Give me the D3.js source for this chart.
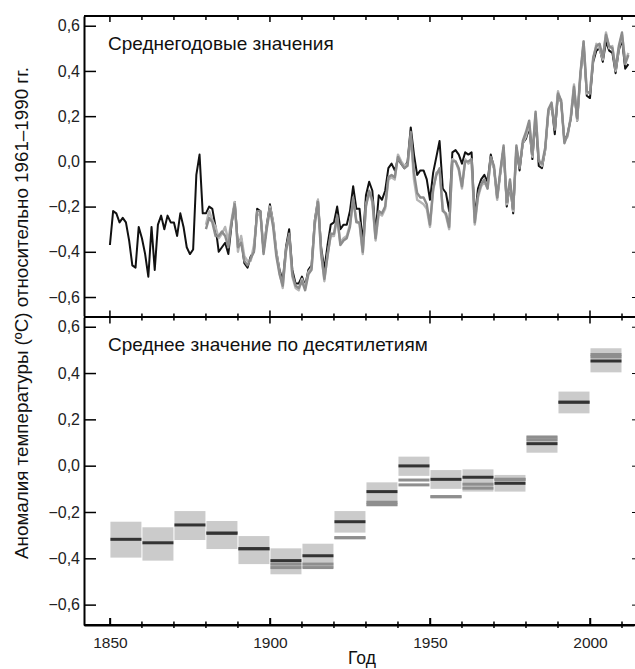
<!DOCTYPE html>
<html>
<head>
<meta charset="utf-8">
<script src="https://cdn.jsdelivr.net/npm/d3@7"></script>
<style>
  body { margin: 0; background: #fff; }
  text { font-family: "Liberation Sans", Arial, sans-serif; }
</style>
</head>
<body>
<svg width="635" height="669"></svg>
<script>
// annual anomalies, 1961-1990 base
var hadYears = d3.range(1850, 2013);
var hadcrut = [
  -0.37,-0.22,-0.23,-0.27,-0.25,-0.27,-0.35,-0.46,-0.47,-0.29,
  -0.34,-0.41,-0.51,-0.29,-0.48,-0.28,-0.24,-0.30,-0.24,-0.27,
  -0.27,-0.33,-0.23,-0.29,-0.38,-0.41,-0.39,-0.06, 0.03,-0.23,
  -0.23,-0.20,-0.21,-0.29,-0.40,-0.38,-0.36,-0.41,-0.28,-0.18,
  -0.37,-0.34,-0.45,-0.47,-0.42,-0.40,-0.21,-0.22,-0.40,-0.28,
  -0.19,-0.27,-0.40,-0.48,-0.53,-0.38,-0.30,-0.48,-0.54,-0.54,
  -0.51,-0.55,-0.48,-0.46,-0.26,-0.17,-0.38,-0.48,-0.37,-0.28,
  -0.27,-0.20,-0.30,-0.28,-0.28,-0.22,-0.11,-0.21,-0.21,-0.36,
  -0.15,-0.09,-0.13,-0.32,-0.15,-0.17,-0.13,-0.03,-0.01,-0.04,
   0.01,-0.01,-0.03, 0.00, 0.15, 0.03,-0.06,-0.04,-0.04,-0.08,
  -0.17,-0.05, 0.02, 0.09,-0.12,-0.14,-0.22, 0.04, 0.05, 0.03,
  -0.01, 0.04, 0.03, 0.04,-0.25,-0.12,-0.08,-0.06,-0.09, 0.03,
  -0.03,-0.16,-0.05, 0.06,-0.20,-0.10,-0.23, 0.06,-0.04, 0.08,
   0.10, 0.15, 0.01, 0.19,-0.02,-0.03, 0.05, 0.22, 0.25, 0.12,
   0.30, 0.26, 0.09, 0.12, 0.19, 0.32, 0.18, 0.38, 0.52, 0.29,
   0.28, 0.44, 0.49, 0.50, 0.44, 0.53, 0.49, 0.48, 0.39, 0.49,
   0.54, 0.41, 0.43
];
var greyYears = d3.range(1880, 2013);
var noaa = [
  -0.30,-0.25,-0.27,-0.33,-0.33,-0.31,-0.33,-0.38,-0.27,-0.19,
  -0.38,-0.36,-0.44,-0.46,-0.43,-0.40,-0.22,-0.22,-0.41,-0.30,
  -0.21,-0.29,-0.42,-0.50,-0.55,-0.40,-0.32,-0.50,-0.55,-0.56,
  -0.53,-0.57,-0.50,-0.48,-0.28,-0.18,-0.41,-0.52,-0.42,-0.32,
  -0.32,-0.24,-0.37,-0.35,-0.34,-0.29,-0.16,-0.27,-0.27,-0.40,
  -0.20,-0.13,-0.17,-0.34,-0.22,-0.23,-0.20,-0.07,-0.06,-0.07,
   0.02,-0.01,-0.03,-0.02, 0.13,-0.05,-0.14,-0.16,-0.16,-0.19,
  -0.28,-0.12,-0.06,-0.03,-0.22,-0.23,-0.29, 0.00, 0.00,-0.03,
  -0.11, 0.00, 0.00, 0.01,-0.27,-0.15,-0.10,-0.08,-0.12, 0.02,
  -0.02,-0.16,-0.04, 0.07,-0.18,-0.08,-0.21, 0.07,-0.03, 0.09,
   0.13, 0.18, 0.03, 0.22, 0.00,-0.01, 0.06, 0.23, 0.26, 0.14,
   0.30, 0.27, 0.08, 0.12, 0.19, 0.33, 0.19, 0.39, 0.53, 0.31,
   0.30, 0.46, 0.51, 0.52, 0.46, 0.56, 0.51, 0.50, 0.41, 0.51,
   0.57, 0.43, 0.47
];
var giss = [
  -0.28,-0.22,-0.26,-0.29,-0.34,-0.32,-0.29,-0.35,-0.26,-0.18,
  -0.40,-0.33,-0.42,-0.44,-0.44,-0.37,-0.24,-0.23,-0.38,-0.29,
  -0.20,-0.27,-0.40,-0.49,-0.56,-0.39,-0.33,-0.51,-0.56,-0.57,
  -0.52,-0.56,-0.49,-0.47,-0.27,-0.17,-0.40,-0.53,-0.41,-0.33,
  -0.33,-0.25,-0.36,-0.34,-0.33,-0.28,-0.17,-0.26,-0.28,-0.41,
  -0.19,-0.14,-0.18,-0.35,-0.23,-0.24,-0.21,-0.08,-0.07,-0.08,
   0.03, 0.00,-0.02,-0.01, 0.11,-0.08,-0.17,-0.18,-0.19,-0.21,
  -0.29,-0.13,-0.05,-0.04,-0.21,-0.24,-0.30, 0.01, 0.00,-0.04,
  -0.12, 0.01,-0.01, 0.00,-0.28,-0.16,-0.11,-0.09,-0.12, 0.01,
  -0.03,-0.17,-0.05, 0.06,-0.19,-0.09,-0.22, 0.06,-0.02, 0.08,
   0.11, 0.17, 0.02, 0.21, 0.01,-0.02, 0.05, 0.22, 0.25, 0.15,
   0.31, 0.26, 0.09, 0.11, 0.20, 0.34, 0.18, 0.38, 0.53, 0.30,
   0.31, 0.45, 0.52, 0.50, 0.45, 0.57, 0.50, 0.51, 0.40, 0.50,
   0.56, 0.44, 0.48
];

// decadal means
var decades  = [1850,1860,1870,1880,1890,1900,1910,1920,1930,1940,1950,1960,1970,1980,1990,2000];
var hadDec   = [-0.318,-0.333,-0.256,-0.292,-0.358,-0.410,-0.389,-0.242,-0.112,-0.001,-0.059,-0.050,-0.076,0.095,0.274,0.452];
var decLow   = [-0.397,-0.410,-0.321,-0.360,-0.425,-0.469,-0.442,-0.289,-0.176,-0.044,-0.100,-0.112,-0.112,0.056,0.226,0.403];
var decHigh  = [-0.242,-0.266,-0.196,-0.239,-0.304,-0.357,-0.337,-0.196,-0.072,0.039,-0.019,-0.016,-0.040,0.128,0.320,0.507];
var noaaDec  = [null,null,null,-0.290,-0.360,-0.425,-0.425,-0.311,-0.158,-0.062,-0.134,-0.080,-0.059,0.112,0.274,0.470];
var gissDec  = [null,null,null,-0.290,-0.360,-0.440,-0.440,-0.311,-0.168,-0.083,-0.134,-0.097,-0.059,0.124,0.274,0.480];

var yTicks = [-0.6,-0.4,-0.2,0,0.2,0.4,0.6];
var xTicks = [1850,1900,1950,2000];
var xMinor = d3.range(1850, 2011, 10);

var svg = d3.select("svg");
var pxLeft = 84, pxRight = 634, pxTop = 16, pxMid = 317, pxBottom = 625;

var x = d3.scaleLinear().domain([1841.9, 2013.75]).range([pxLeft, pxRight]);
var yTop = d3.scaleLinear().domain([-0.684, 0.643]).range([pxMid - 1, pxTop]);
var yBot = d3.scaleLinear().domain([-0.688, 0.642]).range([pxBottom, pxMid]);

var ru = d3.formatLocale({decimal: ",", thousands: " ", grouping: [3], currency: ["", ""], minus: "\u2212"});
var fmt = ru.format(".1f");

// ---- top panel lines
var lineTop = function (years) {
  return d3.line()
    .x(function (d, i) { return x(years[i]); })
    .y(function (d) { return yTop(d); });
};

svg.append("path").datum(hadcrut)
  .attr("d", lineTop(hadYears))
  .attr("fill", "none").attr("stroke", "#111").attr("stroke-width", 2)
  .attr("stroke-linejoin", "round");
svg.append("path").datum(giss)
  .attr("d", lineTop(greyYears))
  .attr("fill", "none").attr("stroke", "#b5b5b5").attr("stroke-width", 2.4)
  .attr("stroke-linejoin", "round");
svg.append("path").datum(noaa)
  .attr("d", lineTop(greyYears))
  .attr("fill", "none").attr("stroke", "#8c8c8c").attr("stroke-width", 2.4)
  .attr("stroke-linejoin", "round");

// ---- bottom panel decades
var dec = decades.map(function (d, i) {
  return {year: d, had: hadDec[i], lo: decLow[i], hi: decHigh[i], noaa: noaaDec[i], giss: gissDec[i]};
});
var gDec = svg.append("g");
gDec.selectAll("rect.box").data(dec).enter().append("rect")
  .attr("class", "box")
  .attr("x", function (d) { return x(d.year) + 0.5; })
  .attr("width", function (d) { return x(d.year + 10) - x(d.year) - 1; })
  .attr("y", function (d) { return yBot(d.hi); })
  .attr("height", function (d) { return yBot(d.lo) - yBot(d.hi); })
  .attr("fill", "#cbcbcb");

["giss", "noaa"].forEach(function (k) {
  gDec.selectAll("line." + k).data(dec.filter(function (d) { return d[k] != null; }))
    .enter().append("line")
    .attr("class", k)
    .attr("x1", function (d) { return x(d.year) + 0.5; })
    .attr("x2", function (d) { return x(d.year + 10) - 0.5; })
    .attr("y1", function (d) { return yBot(d[k]); })
    .attr("y2", function (d) { return yBot(d[k]); })
    .attr("stroke", "#8e8e8e").attr("stroke-width", 3);
});
gDec.selectAll("line.had").data(dec).enter().append("line")
  .attr("class", "had")
  .attr("x1", function (d) { return x(d.year) + 0.5; })
  .attr("x2", function (d) { return x(d.year + 10) - 0.5; })
  .attr("y1", function (d) { return yBot(d.had); })
  .attr("y2", function (d) { return yBot(d.had); })
  .attr("stroke", "#333").attr("stroke-width", 3);

// ---- axes
var axisL1 = d3.axisLeft(yTop).tickValues(yTicks).tickFormat(fmt).tickSizeInner(-12).tickSizeOuter(0).tickPadding(4);
var axisL2 = d3.axisLeft(yBot).tickValues(yTicks).tickFormat(fmt).tickSizeInner(-12).tickSizeOuter(0).tickPadding(4);
svg.append("g").attr("class", "ax axy").attr("transform", "translate(" + pxLeft + ",0)").call(axisL1);
svg.append("g").attr("class", "ax axy").attr("transform", "translate(" + pxLeft + ",0)").call(axisL2);

var axisR1 = d3.axisRight(yTop).tickValues(yTicks).tickFormat("").tickSizeInner(-3).tickSizeOuter(0);
var axisR2 = d3.axisRight(yBot).tickValues(yTicks).tickFormat("").tickSizeInner(-3).tickSizeOuter(0);
svg.append("g").attr("transform", "translate(" + (pxRight + 1) + ",0)").call(axisR1);
svg.append("g").attr("transform", "translate(" + (pxRight + 1) + ",0)").call(axisR2);

var axisB = d3.axisBottom(x).tickValues(xTicks).tickFormat(d3.format("d")).tickSizeInner(-7).tickSizeOuter(0).tickPadding(12);
svg.append("g").attr("class", "ax axx").attr("transform", "translate(0," + pxBottom + ")").call(axisB);

svg.selectAll(".ax text").attr("fill", "#222")
  .attr("font-family", "'Liberation Sans', Arial, sans-serif");
svg.selectAll(".axy text").attr("font-size", 16);
svg.selectAll(".axx text").attr("font-size", 15.5);
svg.selectAll(".ax path").attr("stroke-width", 2);
svg.selectAll(".ax line").attr("stroke-width", 1.5);

// decade ticks on horizontal lines
function hTicks(y0, up, down, upMaj, downMaj) {
  svg.append("g").selectAll("line").data(xMinor).enter().append("line")
    .attr("x1", function (d) { return x(d); })
    .attr("x2", function (d) { return x(d); })
    .attr("y1", function (d) { return y0 - (d % 50 === 0 ? upMaj : up); })
    .attr("y2", function (d) { return y0 + (d % 50 === 0 ? downMaj : down); })
    .attr("stroke", "#000").attr("stroke-width", 1.5);
}
hTicks(pxTop, 0, 4, 0, 6);
hTicks(pxMid, 3.5, 3.5, 6.5, 6.5);
hTicks(pxBottom, 3.5, 3, 7, 0);

// frame lines
[pxTop, pxMid, pxBottom].forEach(function (yy) {
  svg.append("line").attr("x1", pxLeft).attr("x2", pxRight + 1)
    .attr("y1", yy).attr("y2", yy)
    .attr("stroke", "#000").attr("stroke-width", 2);
});

// ---- labels
svg.append("text").attr("x", 108).attr("y", 50)
  .attr("font-size", 19).attr("fill", "#111")
  .text("Среднегодовые значения");
svg.append("text").attr("x", 108).attr("y", 351)
  .attr("font-size", 19).attr("fill", "#111")
  .text("Среднее значение по десятилетиям");
svg.append("text")
  .attr("transform", "translate(28," + 313 + ") rotate(-90)")
  .attr("text-anchor", "middle").attr("font-size", 18.8).attr("fill", "#111")
  .text("Аномалия температуры (ºС) относительно 1961–1990 гг.");
svg.append("text").attr("x", 362).attr("y", 664)
  .attr("text-anchor", "middle").attr("font-size", 17.5).attr("fill", "#111")
  .text("Год");
</script>
</body>
</html>
